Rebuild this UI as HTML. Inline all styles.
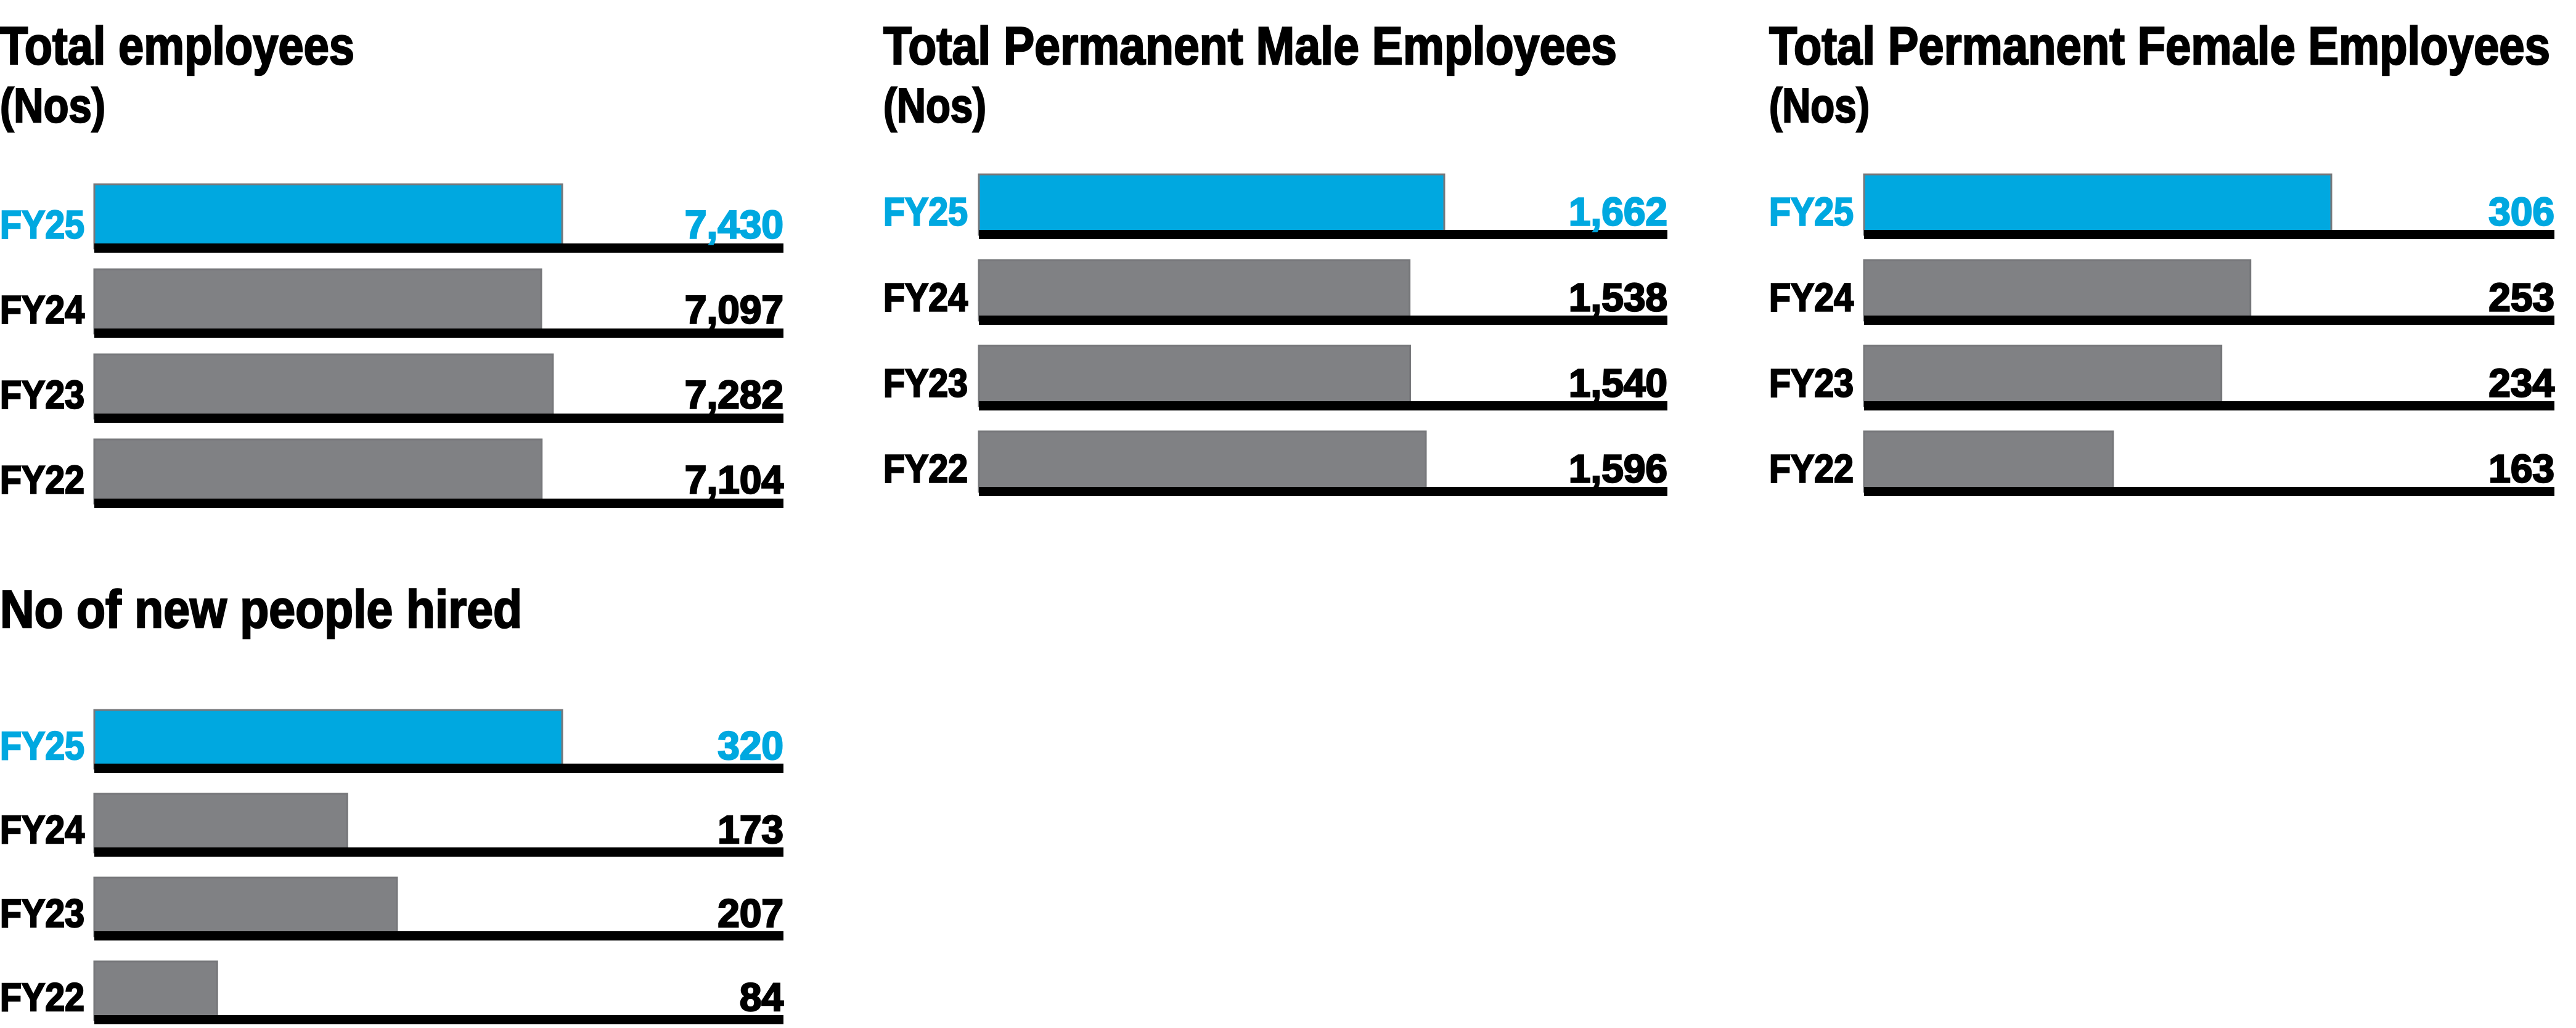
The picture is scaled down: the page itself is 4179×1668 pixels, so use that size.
<!DOCTYPE html>
<html><head><meta charset="utf-8"><style>
html,body{margin:0;padding:0;background:#fff;}
svg{display:block;}
text{font-family:"Liberation Sans",sans-serif;font-weight:bold;stroke-width:2.5px;paint-order:stroke;}
</style></head><body>
<svg id="chart" width="4179" height="1668" viewBox="0 0 4179 1668" xmlns="http://www.w3.org/2000/svg"></svg>
<script>
const categories = ["FY25","FY24","FY23","FY22"];
const totalEmployees = [7430, 7097, 7282, 7104];
const maleEmployees = [1662, 1538, 1540, 1596];
const femaleEmployees = [306, 253, 234, 163];
const newHires = [320, 173, 207, 84];
const totalLabels = ["7,430","7,097","7,282","7,104"];
const maleLabels = ["1,662","1,538","1,540","1,596"];
const femaleLabels = ["306","253","234","163"];
const hireLabels = ["320","173","207","84"];

const NS = "http://www.w3.org/2000/svg";
const svg = document.getElementById("chart");
function mk(tag, attrs, parent){
  const e = document.createElementNS(NS, tag);
  for (const k in attrs) e.setAttribute(k, attrs[k]);
  (parent||svg).appendChild(e);
  return e;
}
const panels = [
  {key:"total", values: totalEmployees, labels: totalLabels, title:"Total employees", tw:575, sub:"(Nos)", sw:171,
   lx:0, bx:153, maxW:759, rx:1271, ty:104, sy:198, top0:299, pitch:138, bh:104},
  {key:"male", values: maleEmployees, labels: maleLabels, title:"Total Permanent Male Employees", tw:1190, sub:"(Nos)", sw:167,
   lx:1433, bx:1588, maxW:755, rx:2705, ty:104, sy:198, top0:283, pitch:139, bh:98},
  {key:"female", values: femaleEmployees, labels: femaleLabels, title:"Total Permanent Female Employees", tw:1267, sub:"(Nos)", sw:163,
   lx:2870, bx:3024, maxW:758, rx:4144, ty:104, sy:198, top0:283, pitch:139, bh:98},
  {key:"hires", values: newHires, labels: hireLabels, title:"No of new people hired", tw:847, sub:null,
   lx:0, bx:153, maxW:759, rx:1271, ty:1018, top0:1152, pitch:136, bh:95}
];
panels.forEach(p => {
  const g = mk("g", {});
  
  
  const t = mk("text", {x:p.lx, y:p.ty, "font-size":86, fill:"#000", stroke:"#000", textLength:p.tw, lengthAdjust:"spacingAndGlyphs"}, g);
  t.textContent = p.title;
  
  
  if (p.sub){
    const s = mk("text", {x:p.lx, y:p.sy, "font-size":78, fill:"#000", stroke:"#000", textLength:p.sw, lengthAdjust:"spacingAndGlyphs"}, g);
    s.textContent = p.sub;
    
    
  }
  const maxV = Math.max(...p.values);
  const xScale = v => v / maxV * p.maxW;
  categories.forEach((c, i) => {
    const top = p.top0 + i * p.pitch;
    const col = i === 0 ? "#00a8e0" : "#808184";
    const w = xScale(p.values[i]);
    const bar = mk("rect", {x:p.bx, y:top, width:w, height:p.bh, fill:col, stroke:"#77787b", "stroke-width":3}, g);
    
    
    const base = mk("rect", {x:p.bx, y:top + p.bh - 8, width:p.rx - p.bx, height:15, fill:"#000"}, g);
    
    
    const ty = top + p.bh * 0.84;
    const tc = i===0 ? "#00a8e0" : "#000";
    const lab = mk("text", {x:p.lx, y:ty, "font-size":64, fill:tc, stroke:tc, textLength:137, lengthAdjust:"spacingAndGlyphs"}, g);
    lab.textContent = c;
    
    
    const val = mk("text", {x:p.rx, y:ty, "font-size":64, fill:tc, stroke:tc, "text-anchor":"end"}, g);
    val.textContent = p.labels[i];
    
    
  });
});
</script>
</body></html>
